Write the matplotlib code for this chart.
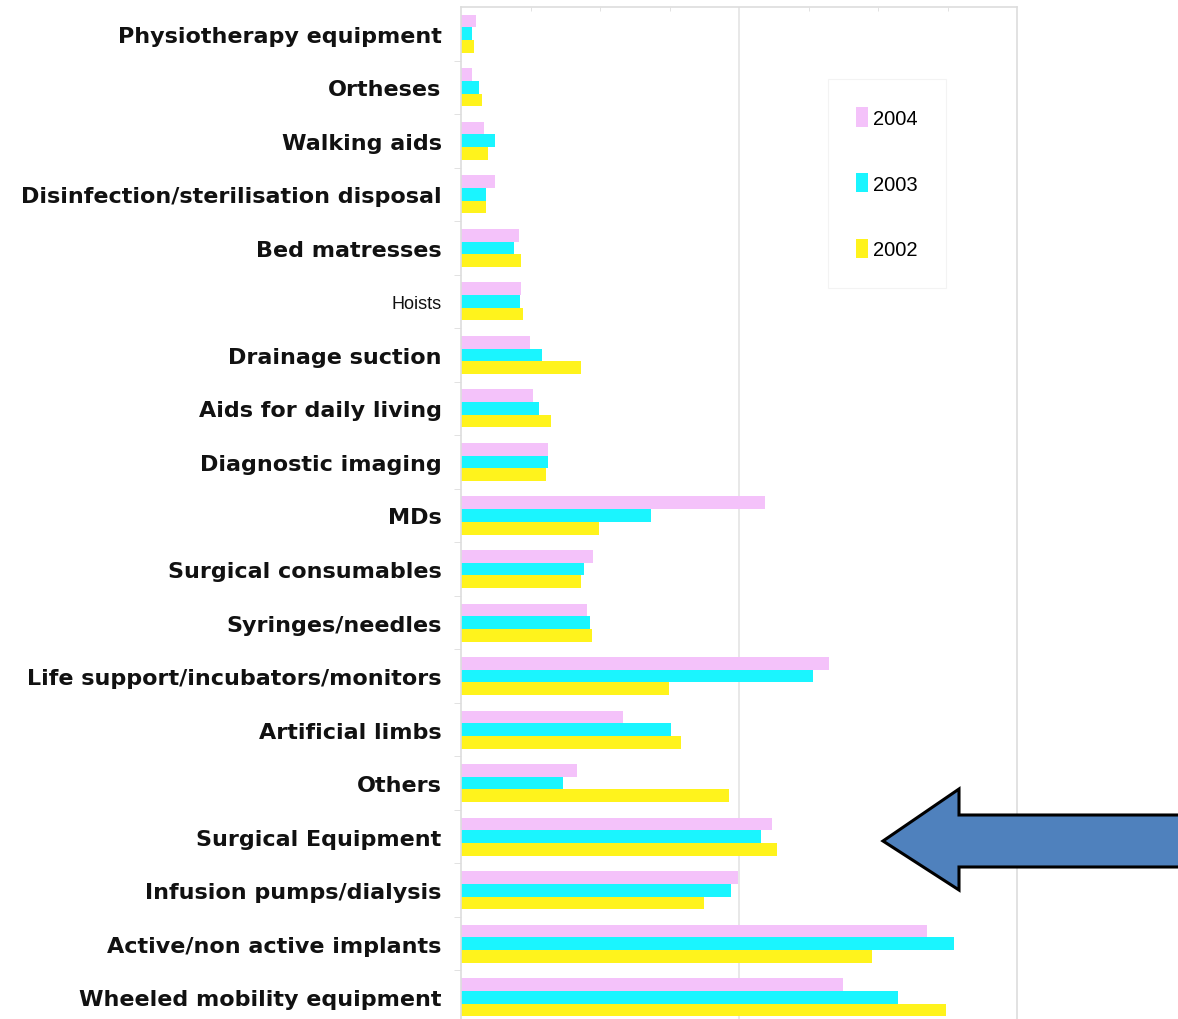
import matplotlib
matplotlib.use("Agg")
import matplotlib.pyplot as plt
import numpy as np
from matplotlib.patches import Polygon

categories = [
    "Physiotherapy equipment", "Ortheses", "Walking aids",
    "Disinfection/sterilisation disposal", "Bed matresses", "Hoists",
    "Drainage suction", "Aids for daily living", "Diagnostic imaging", "MDs",
    "Surgical consumables", "Syringes/needles",
    "Life support/incubators/monitors", "Artificial limbs", "Others",
    "Surgical Equipment", "Infusion pumps/dialysis",
    "Active/non active implants", "Wheeled mobility equipment",
]
v2004 = [0.22, 0.16, 0.33, 0.49, 0.83, 0.86, 0.99, 1.03, 1.25, 4.37,
         1.90, 1.82, 5.30, 2.33, 1.67, 4.47, 3.99, 6.71, 5.49]
v2003 = [0.16, 0.26, 0.49, 0.36, 0.76, 0.85, 1.16, 1.12, 1.25, 2.74,
         1.77, 1.85, 5.06, 3.02, 1.47, 4.31, 3.89, 7.10, 6.29]
v2002 = [0.19, 0.30, 0.39, 0.36, 0.86, 0.89, 1.72, 1.29, 1.22, 1.98,
         1.72, 1.88, 2.99, 3.16, 3.86, 4.55, 3.49, 5.91, 6.98]
series = [("2004", v2004, "#F4C2FA"), ("2003", v2003, "#1AF5FF"),
          ("2002", v2002, "#FFF31C")]

W, H = 1178, 1020
fig = plt.figure(figsize=(W / 100, H / 100), dpi=100)
ax = fig.add_axes([461 / W, -5 / H, (1017 - 461) / W, (1025 - 8) / H])

y = np.arange(len(categories))
bh = 0.237
handles = []
for i, (name, vals, col) in enumerate(series):
    b = ax.barh(y + (i - 1) * bh, vals, height=bh, color=col, label=name,
                edgecolor="none")
    handles.append(b)

ax.set_xlim(0, 8)
ax.set_ylim(len(categories) - 0.5, -0.5)
ax.set_xticks([4])
ax.set_xticklabels([])
ax.tick_params(axis="x", length=0)
ax.xaxis.grid(True, color="#e4e4e4", linewidth=1.2)
ax.set_axisbelow(True)
ax.set_xticks(np.arange(1, 8), minor=True)
ax.tick_params(axis="x", which="minor", direction="in", top=True,
               bottom=False, length=3, color="#dddddd")

ax.set_yticks(y)
ax.set_yticklabels(categories, fontsize=16, fontweight="bold",
                   family="DejaVu Sans", color="#111111")
ax.tick_params(axis="y", length=0, pad=14)
ax.set_yticks(np.arange(len(categories)) + 0.5, minor=True)
ax.tick_params(axis="y", which="minor", length=5, color="#dddddd")
for lab in ax.get_yticklabels():
    if lab.get_text() == "Hoists":
        lab.set_fontweight("normal")
        lab.set_fontsize(13)
        lab.set_family("Liberation Sans")

for s in ["left", "top", "right"]:
    ax.spines[s].set_color("#dddddd")
    ax.spines[s].set_linewidth(1.2)
ax.spines["bottom"].set_visible(False)

leg = ax.legend(handles=handles, loc="upper left",
                bbox_to_anchor=(828 / W, 1 - 80 / H),
                bbox_transform=fig.transFigure, frameon=True,
                handlelength=0.6, handleheight=1.1, handletextpad=0.25,
                labelspacing=2.25, borderpad=1.4,
                prop={"family": "Liberation Sans", "size": 14.5},
                fancybox=False, borderaxespad=0)
leg.get_frame().set_edgecolor("#f0f0f0")
leg.get_frame().set_linewidth(0.8)

# blue arrow annotation
pts = [(883, 842), (959, 790), (959, 816), (1190, 816), (1190, 868),
       (959, 868), (959, 891)]
poly = Polygon([(px / W, 1 - py / H) for px, py in pts], closed=True,
               transform=fig.transFigure, facecolor="#4F81BD",
               edgecolor="black", linewidth=2.2, joinstyle="miter",
               clip_on=False)
fig.patches.append(poly)

fig.savefig("out.png", dpi=100, facecolor="white")
